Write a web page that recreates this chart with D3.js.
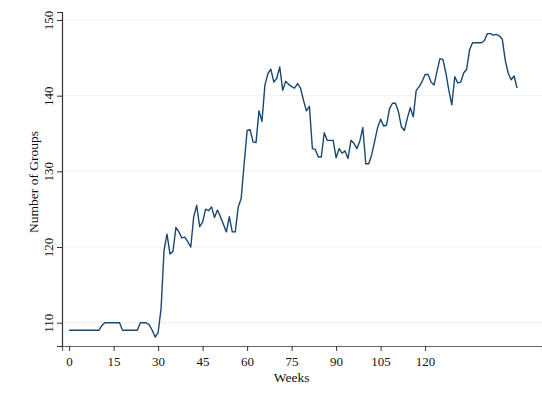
<!DOCTYPE html>
<html>
<head>
<meta charset="utf-8">
<script src="https://cdn.jsdelivr.net/npm/d3@7"></script>
<style>
  body { margin: 0; background: #fff; }
  text { font-family: "Liberation Serif", "Times New Roman", serif; fill: #111; }
</style>
</head>
<body>
<div id="viz"></div>
<script>
// weekly count of groups
var weeks = d3.range(0, 152);
var groups = [
  109, 109, 109, 109, 109, 109, 109, 109, 109, 109,          // 0-9
  109, 109.6, 110, 110, 110, 110, 110, 110, 109, 109,        // 10-19
  109, 109, 109, 109, 110, 110, 110, 109.7, 109, 108.1,      // 20-29
  108.7, 111.9, 119.6, 121.7, 119.1, 119.4, 122.6, 122, 121.2, 121.3, // 30-39
  120.7, 120, 124, 125.5, 122.7, 123.3, 125, 124.8, 125.3, 123.9,     // 40-49
  124.9, 124, 123, 122, 124, 122, 122, 125.3, 126.4, 131,             // 50-59
  135.4, 135.5, 133.9, 133.8, 138, 136.6, 141.4, 142.9, 143.5, 141.8, // 60-69
  142.3, 143.8, 140.7, 141.9, 141.5, 141.2, 141, 141.6, 141, 139.4,   // 70-79
  138, 138.6, 133, 132.9, 131.9, 131.9, 135.1, 134.1, 134.1, 134.1,   // 80-89
  131.8, 133, 132.4, 132.7, 131.7, 134.1, 133.7, 133, 134, 135.8,     // 90-99
  131, 131, 132.2, 134, 135.8, 136.9, 136, 136.1, 138.3, 139,         // 100-109
  139, 137.9, 135.9, 135.4, 137, 138.4, 137.2, 140.7, 141.2, 141.9,   // 110-119
  142.8, 142.8, 141.8, 141.4, 143.2, 144.9, 144.8, 143, 140.7, 138.8, // 120-129
  142.5, 141.7, 141.8, 143, 143.5, 146.1, 147, 147, 147, 147,         // 130-139
  147.3, 148.2, 148.2, 148, 148.1, 147.9, 147.5, 144.7, 143, 142.1,   // 140-149
  142.6, 141                                                          // 150-151
];
var xTicks = [0, 15, 30, 45, 60, 75, 90, 105, 120];
var yTicks = [110, 120, 130, 140, 150];

var W = 542, H = 404;
var plotLeft = 62, plotRight = 542, plotTop = 12, plotBottom = 346;

var svg = d3.select('#viz').append('svg')
    .attr('width', W).attr('height', H);

svg.append('rect').attr('width', W).attr('height', H).attr('fill', '#fff');

var x = d3.scaleLinear().domain([-2.4, 159.4]).range([plotLeft, plotRight]);
var y = d3.scaleLinear().domain([106.92, 151.06]).range([plotBottom, plotTop]);

// grid
svg.append('g').selectAll('line')
    .data(yTicks)
  .enter().append('line')
    .attr('x1', plotLeft).attr('x2', plotRight)
    .attr('y1', function(d){ return y(d); })
    .attr('y2', function(d){ return y(d); })
    .attr('stroke', '#eaf1f2').attr('stroke-width', 1);

// x axis
var xAxis = svg.append('g')
    .attr('transform', 'translate(0,' + plotBottom + ')')
    .call(d3.axisBottom(x).tickValues(xTicks).tickSizeOuter(0).tickSize(5).tickPadding(6));
xAxis.select('.domain').attr('stroke', '#666').attr('stroke-width', 1.2);
xAxis.selectAll('.tick line').attr('stroke', '#333');
xAxis.selectAll('.tick text')
    .attr('font-family', '"Liberation Serif", serif')
    .attr('font-size', 13).attr('fill', '#111');

// y axis
var yAxis = svg.append('g')
    .attr('transform', 'translate(' + plotLeft + ',0)')
    .call(d3.axisLeft(y).tickValues(yTicks).tickSizeOuter(0).tickSize(5));
yAxis.select('.domain').attr('stroke', '#333').attr('stroke-width', 1.2);
yAxis.selectAll('.tick line').attr('stroke', '#333');
yAxis.selectAll('.tick text')
    .attr('font-family', '"Liberation Serif", serif')
    .attr('font-size', 13).attr('fill', '#111')
    .attr('x', null).attr('dy', null)
    .attr('text-anchor', 'middle')
    .attr('transform', 'translate(-9,0) rotate(-90)');

// titles
svg.append('text')
    .attr('x', x(75)).attr('y', 382)
    .attr('text-anchor', 'middle')
    .attr('font-size', 13.5)
    .text('Weeks');

svg.append('text')
    .attr('transform', 'translate(37.5,' + ((plotTop + plotBottom) / 2 + 3) + ') rotate(-90)')
    .attr('text-anchor', 'middle')
    .attr('font-size', 13.5)
    .text('Number of Groups');

// the line
var line = d3.line()
    .x(function(d, i){ return x(weeks[i]); })
    .y(function(d){ return y(d); });

svg.append('path')
    .datum(groups)
    .attr('d', line)
    .attr('fill', 'none')
    .attr('stroke', '#1a476f')
    .attr('stroke-width', 1.4)
    .attr('stroke-linejoin', 'round');
</script>
</body>
</html>
